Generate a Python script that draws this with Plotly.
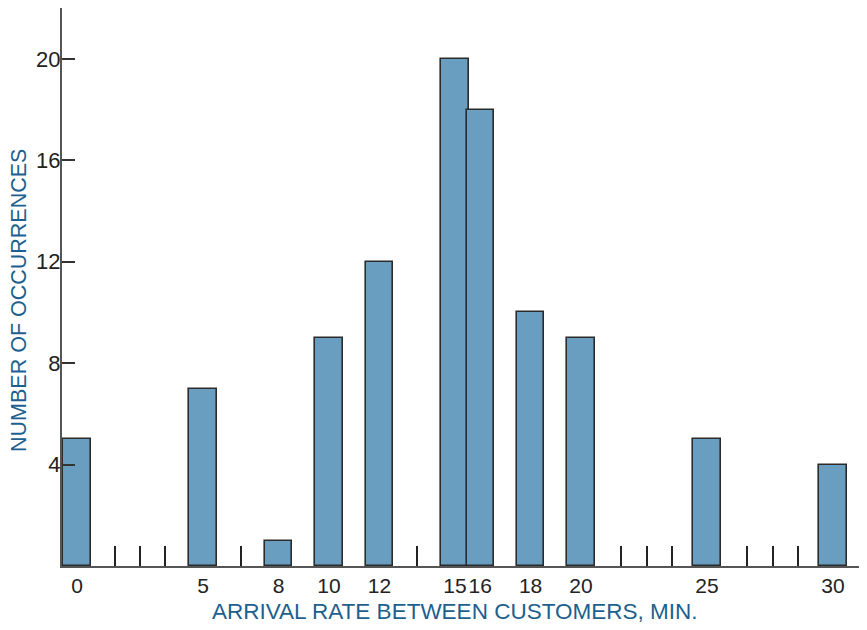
import plotly.graph_objects as go

# Data
arrival_minutes = [0, 5, 8, 10, 12, 15, 16, 18, 20, 25, 30]
occurrences = [5, 7, 1, 9, 12, 20, 18, 10, 9, 5, 4]
x_tick_labels = ["0", "5", "8", "10", "12", "15", "16", "18", "20", "25", "30"]
y_tick_values = [4, 8, 12, 16, 20]
empty_slot_marks = [1.5, 2.5, 3.5, 6.5, 13.5, 21.6, 22.6, 23.6, 26.6, 27.6, 28.6]

x_title = "ARRIVAL RATE BETWEEN CUSTOMERS, MIN."
y_title = "NUMBER OF OCCURRENCES"

fig = go.Figure()
fig.add_trace(go.Bar(
    x=arrival_minutes,
    y=occurrences,
    width=1.08,
    marker=dict(color="#6a9ec0", line=dict(color="#2b2b2b", width=1.6)),
    showlegend=False,
))

font_family = "Liberation Sans, Arial, sans-serif"
title_color = "#1d5f8e"

# The page body adds an 8px margin, so the figure is sized to fit inside the window.
fig.update_layout(
    width=859,
    height=622,
    margin=dict(l=54, r=0, t=0, b=64, autoexpand=False),
    paper_bgcolor="white",
    plot_bgcolor="white",
    font=dict(family=font_family, size=22, color="#222222"),
    bargap=0,
    annotations=[
        dict(text=x_title, xref="paper", yref="paper", x=0.487, y=-0.0824,
             xanchor="center", yanchor="middle", showarrow=False,
             font=dict(size=22.5, color=title_color)),
        dict(text=y_title, xref="paper", yref="paper", x=-0.0534, y=0.475,
             xanchor="center", yanchor="middle", showarrow=False, textangle=-90,
             font=dict(size=21.5, color=title_color)),
    ],
)

fig.update_xaxes(
    range=[-0.595, 31.35],
    automargin=False,
    tickmode="array",
    tickvals=arrival_minutes,
    ticktext=x_tick_labels,
    tickangle=0,
    ticks="",
    showgrid=False,
    zeroline=False,
    showline=True,
    linecolor="#555555",
    linewidth=2,
    tickfont=dict(size=21, color="#222222"),
    minor=dict(
        tickmode="array",
        tickvals=empty_slot_marks,
        ticks="inside",
        ticklen=20,
        tickwidth=1.5,
        tickcolor="#222222",
        showgrid=False,
    ),
)

fig.update_yaxes(
    range=[0, 22.01],
    automargin=False,
    tickmode="array",
    tickvals=y_tick_values,
    ticks="inside",
    ticklen=13,
    tickwidth=1.5,
    tickcolor="#333333",
    ticklabelstandoff=-5,
    showgrid=False,
    zeroline=False,
    showline=True,
    linecolor="#555555",
    linewidth=2,
    tickfont=dict(size=22, color="#222222"),
)

fig.write_html("out.html")
